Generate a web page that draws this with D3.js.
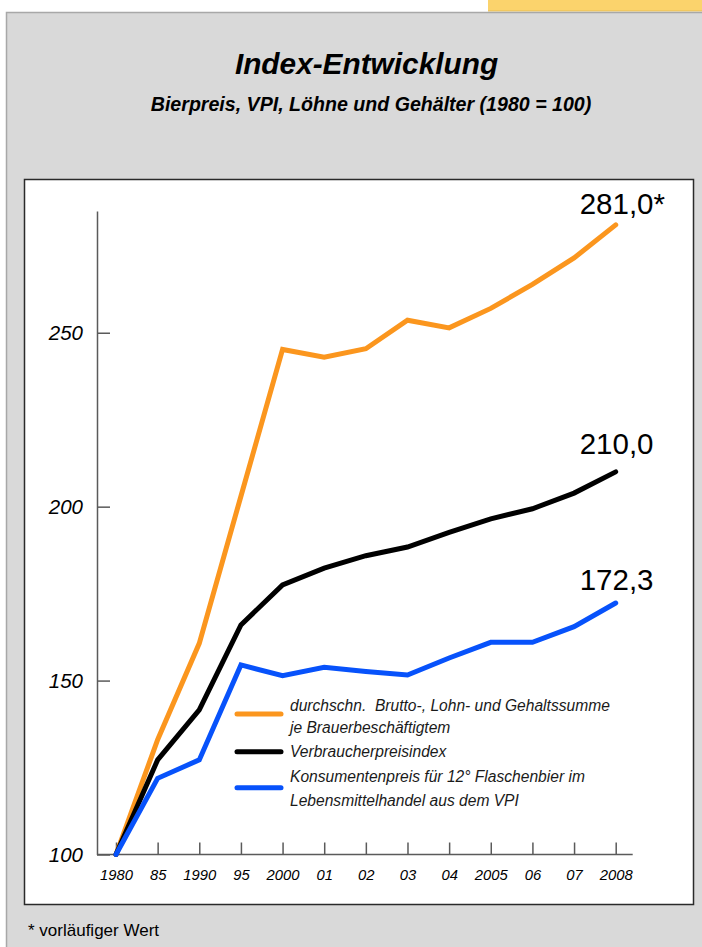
<!DOCTYPE html>
<html>
<head>
<meta charset="utf-8">
<script src="https://cdn.jsdelivr.net/npm/d3@7/dist/d3.min.js"></script>
<style>
  html, body { margin: 0; padding: 0; background: #fff; }
  svg { display: block; font-family: "Liberation Sans", Arial, Helvetica, sans-serif; }
</style>
</head>
<body>
<svg id="chart" width="702" height="947"></svg>
<script>
// ---- data ----
const years = ["1980","85","1990","95","2000","01","02","03","04","2005","06","07","2008"];
const wages = [100, 133, 160.7, 203, 245.2, 243, 245.4, 253.6, 251.4, 257, 263.9, 271.5, 281.0];
const cpi   = [100, 127.2, 141.6, 166, 177.5, 182.3, 185.9, 188.4, 192.6, 196.5, 199.4, 203.9, 210.0];
const beer  = [100, 121.9, 127.2, 154.5, 151.4, 153.8, 152.6, 151.6, 156.5, 161, 161, 165.5, 172.3];
const yTicks = [100, 150, 200, 250];
const endLabels = ["281,0*", "210,0", "172,3"];
const seriesNames = [
  ["durchschn.  Brutto-, Lohn- und Gehaltssumme", "je Brauerbeschäftigtem"],
  ["Verbraucherpreisindex"],
  ["Konsumentenpreis für 12° Flaschenbier im", "Lebensmittelhandel aus dem VPI"]
];
const seriesColors = ["#fb961e", "#000000", "#0752fb"];
const title = "Index-Entwicklung";
const subtitle = "Bierpreis, VPI, Löhne und Gehälter (1980 = 100)";
const footnote = "* vorläufiger Wert";

// ---- layout ----
const svg = d3.select("#chart");
const series = [wages, cpi, beer];

// page background
svg.append("rect").attr("x", 0).attr("y", 0).attr("width", 702).attr("height", 947).attr("fill", "#ffffff");
svg.append("rect").attr("x", 488).attr("y", 0).attr("width", 214).attr("height", 11).attr("fill", "#fbd36c");
svg.append("line").attr("x1", 488).attr("x2", 702).attr("y1", 11).attr("y2", 11).attr("stroke", "#e6bd55").attr("stroke-width", 1);
svg.append("rect").attr("x", 6.5).attr("y", 12.5).attr("width", 700).attr("height", 940)
  .attr("fill", "#d9d9d9").attr("stroke", "#a8a8a8").attr("stroke-width", 1.5);

// white chart panel
svg.append("rect").attr("x", 24.5).attr("y", 179.5).attr("width", 669).attr("height", 725)
  .attr("fill", "#ffffff").attr("stroke", "#2a2a2a").attr("stroke-width", 1.5);

// titles
svg.append("text").attr("x", 366.5).attr("y", 74).attr("text-anchor", "middle")
  .attr("font-size", 29.8).attr("font-weight", "bold").attr("font-style", "italic").attr("fill", "#000")
  .text(title);
svg.append("text").attr("x", 371).attr("y", 110.5).attr("text-anchor", "middle")
  .attr("font-size", 19.6).attr("font-weight", "bold").attr("font-style", "italic").attr("fill", "#000")
  .text(subtitle);

// footnote
svg.append("text").attr("x", 28).attr("y", 936).attr("font-size", 17).attr("fill", "#000").text(footnote);

// scales
const x = d3.scalePoint().domain(years).range([116, 615.7]);
const y = d3.scaleLinear().domain([100, 285]).range([854.5, 211]);
const axisX0 = 97;

// y axis
const yAxis = d3.axisLeft(y).tickValues(yTicks).tickSizeInner(-13).tickSizeOuter(0).tickPadding(14);
const gy = svg.append("g").attr("transform", `translate(${axisX0},0)`).call(yAxis);
gy.select(".domain").attr("stroke", "#5a5a5a").attr("stroke-width", 1.5);
gy.selectAll(".tick line").attr("stroke", "#5a5a5a").attr("stroke-width", 1.5);
gy.selectAll(".tick text").attr("font-size", 20.5).attr("font-style", "italic").attr("fill", "#000")
  .attr("font-family", "\"Liberation Sans\", Arial, sans-serif");

// x axis
const xAxis = d3.axisBottom(x).tickSizeInner(-12).tickSizeOuter(0).tickPadding(14.5);
const gx = svg.append("g").attr("transform", `translate(0,${y(100)})`).call(xAxis);
gx.select(".domain").remove();
gx.append("line").attr("x1", axisX0).attr("x2", x(years[years.length - 1]) + 17)
  .attr("y1", 0).attr("y2", 0).attr("stroke", "#5a5a5a").attr("stroke-width", 1.5);
gx.selectAll(".tick line").attr("stroke", "#5a5a5a").attr("stroke-width", 1.5);
gx.selectAll(".tick text").attr("font-size", 14.8).attr("font-style", "italic").attr("fill", "#000")
  .attr("font-family", "\"Liberation Sans\", Arial, sans-serif");

// lines
const line = d3.line().x((d, i) => x(years[i])).y(d => y(d));
series.forEach((s, i) => {
  svg.append("path").datum(s).attr("d", line)
    .attr("fill", "none").attr("stroke", seriesColors[i]).attr("stroke-width", 5)
    .attr("stroke-linejoin", "miter").attr("stroke-linecap", "round");
});

// end labels
const endDy = [-11, -18, -13];
series.forEach((s, i) => {
  svg.append("text").attr("x", x(years[years.length - 1]) - 36).attr("y", y(s[s.length - 1]) + endDy[i])
    .attr("font-size", 29.5).attr("fill", "#000").text(endLabels[i]);
});

// legend
const legX1 = 237, legX2 = 281, legTextX = 290;
const legLineY = [714, 751.7, 787.7];
const legTextY = [[710.7, 733.3], [757], [781.7, 806]];
seriesNames.forEach((lines, i) => {
  svg.append("line").attr("x1", legX1).attr("x2", legX2).attr("y1", legLineY[i]).attr("y2", legLineY[i])
    .attr("stroke", seriesColors[i]).attr("stroke-width", 5).attr("stroke-linecap", "round");
  lines.forEach((t, j) => {
    svg.append("text").attr("x", legTextX).attr("y", legTextY[i][j])
      .attr("font-size", 15.6).attr("font-style", "italic").attr("fill", "#1a1a1a")
      .style("white-space", "pre").text(t);
  });
});
</script>
</body>
</html>
